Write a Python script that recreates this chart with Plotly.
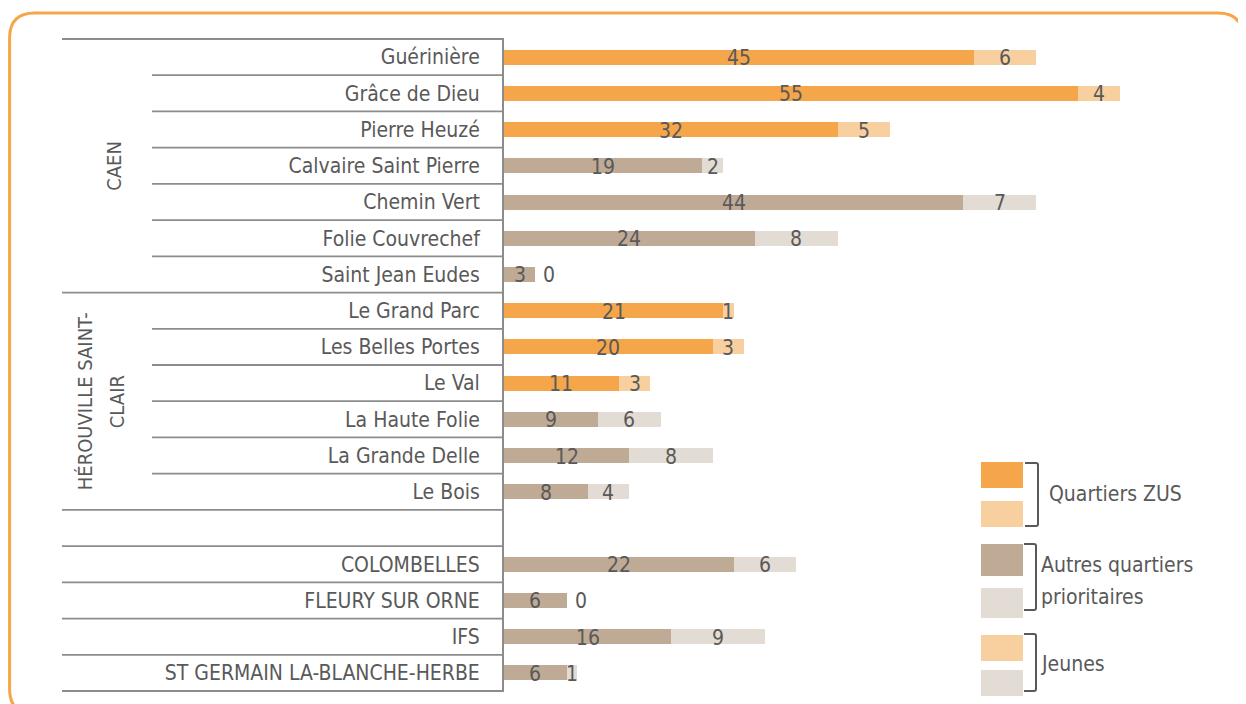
import plotly.graph_objects as go

# ---------------- data ----------------
categories = ["Guérinière", "Grâce de Dieu", "Pierre Heuzé", "Calvaire Saint Pierre",
              "Chemin Vert", "Folie Couvrechef", "Saint Jean Eudes",
              "Le Grand Parc", "Les Belles Portes", "Le Val", "La Haute Folie",
              "La Grande Delle", "Le Bois", " ",
              "COLOMBELLES", "FLEURY SUR ORNE", "IFS", "ST GERMAIN LA-BLANCHE-HERBE"]
ensemble = [45, 55, 32, 19, 44, 24, 3, 21, 20, 11, 9, 12, 8, None, 22, 6, 16, 6]
jeunes = [6, 4, 5, 2, 7, 8, 0, 1, 3, 3, 6, 8, 4, None, 6, 0, 9, 1]
zone_zus = [True, True, True, False, False, False, False, True, True, True,
            False, False, False, None, False, False, False, False]
groups = [("CAEN", 0, 7), ("HÉROUVILLE SAINT-|CLAIR", 7, 13)]
legend_groups = ["Quartiers ZUS", "Autres quartiers|prioritaires", "Jeunes"]

# ---------------- styles ----------------
C_ZUS, C_ZUS_L = "#F5A64A", "#F8CF9E"
C_AUT, C_AUT_L = "#BFAA96", "#E3DCD4"
TXT = "#595959"
LINE = "#8C8C8C"
FONT = "Liberation Sans Narrow, DejaVu Sans Condensed, Roboto Condensed, Roboto, sans-serif"

OFF = 8  # page body margin
W, H = 1246 - OFF, 704 - OFF
ML, MR, MT, MB = 504 - OFF, 0, 39 - OFF, 13
PW, PH = W - ML - MR, H - MT - MB
PX_PER_UNIT = 10.44


def pxx(px):  # page pixel -> paper x
    return (px - OFF - ML) / PW


def pxy(py):  # page pixel -> paper y
    return (H - MB - (py - OFF)) / PH


n = len(categories)
row_h = PH / n

c_main = ["rgba(0,0,0,0)" if z is None else (C_ZUS if z else C_AUT) for z in zone_zus]
c_light = ["rgba(0,0,0,0)" if z is None else (C_ZUS_L if z else C_AUT_L) for z in zone_zus]

fig = go.Figure()
fig.add_trace(go.Bar(y=categories, x=ensemble, orientation="h", marker_color=c_main,
                     marker_line_width=0, width=0.414, hoverinfo="skip", showlegend=False))
fig.add_trace(go.Bar(y=categories, x=jeunes, orientation="h", marker_color=c_light,
                     marker_line_width=0, width=0.414, hoverinfo="skip", showlegend=False))

annotations = []
LBL = dict(size=21, color=TXT, family=FONT)
# data labels
for cat, m, j in zip(categories, ensemble, jeunes):
    if m is None:
        continue
    annotations.append(dict(x=m / 2, y=cat, xref="x", yref="y", text=str(m), showarrow=False,
                            xanchor="center", yanchor="middle", yshift=-1, font=LBL))
    if j > 0:
        annotations.append(dict(x=m + j / 2, y=cat, xref="x", yref="y", text=str(j), showarrow=False,
                                xanchor="center", yanchor="middle", yshift=-1, font=LBL))
    else:
        annotations.append(dict(x=m, y=cat, xref="x", yref="y", text=str(j), showarrow=False,
                                xanchor="left", yanchor="middle", xshift=6, yshift=-1, font=LBL))

# group labels (rotated, one annotation per line)
group_x = {"CAEN": [114], "HÉROUVILLE SAINT-|CLAIR": [85, 117]}
for label, i0, i1 in groups:
    yc = 39 + row_h * (i0 + i1) / 2
    for part, gx in zip(label.split("|"), group_x[label]):
        annotations.append(dict(x=pxx(gx), y=pxy(yc), xref="paper", yref="paper", text=part,
                                textangle=-90, showarrow=False, xanchor="center", yanchor="middle",
                                font=dict(size=20, color=TXT, family=FONT)))

shapes = []
# table lines
full = {0, 7, 13, 14, 15, 16, 17, 18}
for k in range(n + 1):
    py = 39 + row_h * k
    x0 = 62 if k in full else 152
    shapes.append(dict(type="line", xref="paper", yref="paper", x0=pxx(x0), x1=pxx(504),
                       y0=pxy(py), y1=pxy(py), line=dict(color=LINE, width=1.8)))

# rounded orange border
L, T, R, B, r = 9.6, 13, 1243, 714, 25
path = (f"M {pxx(L)},{pxy(T + r)} Q {pxx(L)},{pxy(T)} {pxx(L + r)},{pxy(T)} "
        f"L {pxx(R - r)},{pxy(T)} Q {pxx(R)},{pxy(T)} {pxx(R)},{pxy(T + r)} "
        f"L {pxx(R)},{pxy(B - r)} Q {pxx(R)},{pxy(B)} {pxx(R - r)},{pxy(B)} "
        f"L {pxx(L + r)},{pxy(B)} Q {pxx(L)},{pxy(B)} {pxx(L)},{pxy(B - r)} Z")
shapes.append(dict(type="path", xref="paper", yref="paper", path=path,
                   line=dict(color="#F5A64A", width=3)))

# custom legend
swatches = [(462, 488, C_ZUS), (501, 527, C_ZUS_L), (544, 576, C_AUT), (588, 618, C_AUT_L),
            (635, 661, C_ZUS_L), (670, 696, C_AUT_L)]
for y0, y1, col in swatches:
    shapes.append(dict(type="rect", xref="paper", yref="paper", x0=pxx(981), x1=pxx(1023),
                       y0=pxy(y0), y1=pxy(y1), fillcolor=col, line=dict(width=0)))
brackets = [(1025, 1038, 463, 526), (1024, 1036, 544, 610), (1024, 1036, 634, 691)]
for xa, xb, ya, yb in brackets:
    p = (f"M {pxx(xa)},{pxy(ya)} L {pxx(xb - 2)},{pxy(ya)} Q {pxx(xb)},{pxy(ya)} {pxx(xb)},{pxy(ya + 2)} "
         f"L {pxx(xb)},{pxy(yb - 2)} Q {pxx(xb)},{pxy(yb)} {pxx(xb - 2)},{pxy(yb)} L {pxx(xa)},{pxy(yb)}")
    shapes.append(dict(type="path", xref="paper", yref="paper", path=p,
                       line=dict(color="#595959", width=2)))
leg_pos = [[(1047, 494)], [(1039, 565), (1039, 597)], [(1039, 664)]]
for txt, poss in zip(legend_groups, leg_pos):
    for part, (lx, ly) in zip(txt.split("|"), poss):
        annotations.append(dict(x=pxx(lx), y=pxy(ly), xref="paper", yref="paper", text=part,
                                xanchor="left", yanchor="middle", align="left", showarrow=False,
                                font=dict(size=21, color=TXT, family=FONT)))

fig.update_layout(
    width=W, height=H, barmode="stack", bargap=0.5,
    margin=dict(l=ML, r=MR, t=MT, b=MB, autoexpand=False),
    paper_bgcolor="white", plot_bgcolor="white",
    xaxis=dict(range=[0, PW / PX_PER_UNIT], showgrid=False, zeroline=False,
               showticklabels=False, showline=False, fixedrange=True),
    yaxis=dict(type="category", categoryorder="array", categoryarray=categories,
               range=[n - 0.5, -0.5], showgrid=False, zeroline=False,
               showline=True, linecolor=LINE, linewidth=2, ticks="",
               ticklabelstandoff=18, tickfont=dict(size=21, color=TXT, family=FONT)),
    shapes=shapes, annotations=annotations,
)

fig.write_html("out.html")
